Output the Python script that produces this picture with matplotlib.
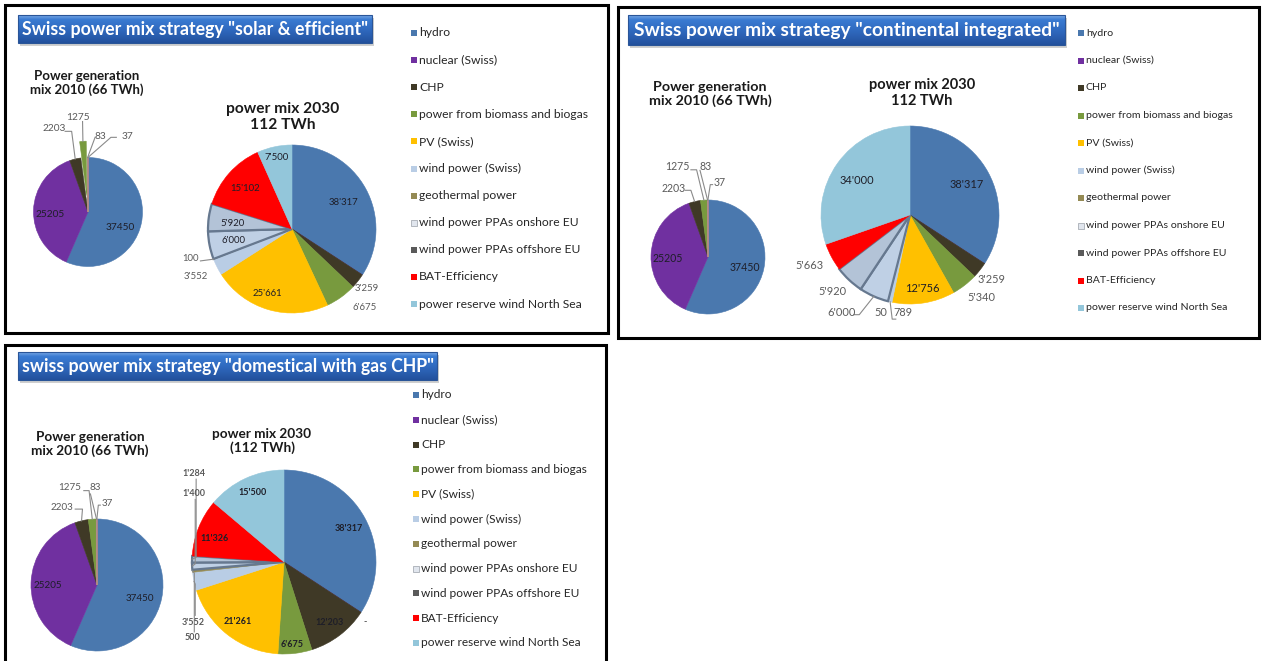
import matplotlib
matplotlib.use("Agg")
import matplotlib.pyplot as plt
import numpy as np
from matplotlib.patches import Rectangle
from matplotlib.colors import LinearSegmentedColormap

W, H = 1262, 661

# ---- data -------------------------------------------------------------
categories = [
    "hydro", "nuclear (Swiss)", "CHP", "power from biomass and biogas",
    "PV (Swiss)", "wind power (Swiss)", "geothermal power",
    "wind power PPAs onshore EU", "wind power PPAs offshore EU",
    "BAT-Efficiency", "power reserve wind North Sea",
]
mix_2010 = [37450, 25205, 2203, 1275, 83, 37, 0, 0, 0, 0, 0]
solar_2030 = [38317, 0, 3259, 6675, 25661, 3552, 100, 6000, 5920, 15102, 7500]
continental_2030 = [38317, 0, 3259, 5340, 12756, 789, 50, 6000, 5920, 5663, 34000]
domestic_2030 = [38317, 0, 12203, 6675, 21261, 3552, 500, 1400, 1284, 11326, 15500]

panel_titles = [
    'Swiss power mix strategy "solar & efficient"',
    'Swiss power mix strategy "continental integrated"',
    'swiss power mix strategy "domestical with gas CHP"',
]
title_2010 = "Power generation\nmix 2010 (66 TWh)"
titles_2030 = ["power mix 2030\n112 TWh", "power mix 2030\n112 TWh",
               "power mix 2030\n(112 TWh)"]

# ---- styling ----------------------------------------------------------
colors = ['#4a78ae', '#7030a0', '#3f3926', '#789a3e', '#ffc000', '#b9cde5',
          '#948a54', '#e1e6ee', '#5a5a5a', '#ff0000', '#93c6da']
bevel_fill = {7: '#bfd0e5', 8: '#b3c3d7'}
bevel_edge = '#66788f'
IN_COL, OUT_COL, LEAD_COL = '#1e1e28', '#5a5a5a', '#8a8a8a'

NARROW = ['Liberation Sans Narrow', 'Lato', 'DejaVu Sans']
plt.rcParams['font.family'] = ['Lato', 'DejaVu Sans']
fig = plt.figure(figsize=(W / 100, H / 100), dpi=100)
renderer = fig.canvas.get_renderer()


def fx(x):
    return x / W


def fy(y):
    return 1 - y / H


def fit_width(txt, target):
    bb = txt.get_window_extent(renderer)
    txt.set_fontsize(txt.get_fontsize() * target / bb.width)


def fmt_th(v):
    return f"{v:,}".replace(",", "'")


def panel_frame(x0, y0, x1, y1):
    fig.add_artist(Rectangle((fx(x0), fy(y1)), fx(x1 - x0), (y1 - y0) / H,
                             transform=fig.transFigure, fill=False,
                             ec='black', lw=2.2, zorder=5))


bar_cmap = LinearSegmentedColormap.from_list(
    'bar', [(0.0, '#22509c'), (0.45, '#2f68bd'), (0.85, '#3a7bd2'),
            (1.0, '#78a7e4')])


def title_bar(x0, y0, x1, y1, text, text_w):
    # soft drop shadow behind the bar
    fig.add_artist(Rectangle((fx(x0 + 2), fy(y1 + 3)), fx(x1 - x0), (y1 - y0) / H,
                             transform=fig.transFigure, fc='#a0a0a0',
                             ec='none', alpha=0.5, zorder=-1))
    ax = fig.add_axes([fx(x0), fy(y1), fx(x1 - x0), (y1 - y0) / H])
    ax.set_zorder(2)
    grad = np.linspace(0, 1, 64).reshape(-1, 1)
    ax.imshow(grad, cmap=bar_cmap, aspect='auto', origin='lower',
              extent=[0, 1, 0, 1])
    ax.set_axis_off()
    fig.add_artist(Rectangle((fx(x0), fy(y1)), fx(x1 - x0), (y1 - y0) / H,
                             transform=fig.transFigure, fill=False,
                             ec='#2a5598', lw=0.8, zorder=3))
    t = fig.text(fx((x0 + x1) / 2), fy((y0 + y1) / 2 + 0.5), text,
                 color='white', fontweight='bold', fontsize=14,
                 ha='center', va='center', family=NARROW, zorder=4)
    fit_width(t, text_w)


def subtitle(x, y, text, width):
    t = fig.text(fx(x), fy(y), text, ha='center', va='center',
                 fontweight='bold', color='#1a1a1a', fontsize=10,
                 linespacing=1.1, family=NARROW)
    fit_width(t, width)


def legend(x, y0, step, width):
    probe = fig.text(0, 0, max(categories, key=len), fontsize=10)
    bb = probe.get_window_extent(renderer)
    probe.remove()
    fs = 10 * width / bb.width
    for i, (cat, col) in enumerate(zip(categories, colors)):
        y = y0 + i * step
        fig.add_artist(Rectangle((fx(x), fy(y + 3)), 6 / W, 6 / H,
                                 transform=fig.transFigure, fc=col,
                                 ec='#9aa0a8' if i == 7 else 'none', lw=0.5))
        fig.text(fx(x + 8), fy(y), cat, fontsize=fs, va='center',
                 ha='left', color='#262626')


def pie(cx, cy, r, values, specs, fs, fmt=str, bold=False, explode=None,
        ry=None):
    ry = ry or r
    ax = fig.add_axes([fx(cx - r), fy(cy + ry), 2 * r / W, 2 * ry / H])
    wedges, _ = ax.pie(values, colors=colors, startangle=90,
                       counterclock=False, explode=explode,
                       wedgeprops=dict(linewidth=0.4))
    for w in wedges:
        w.set_edgecolor(w.get_facecolor())
    for i, fill in bevel_fill.items():
        if values[i] > 0:
            wedges[i].set_facecolor(fill)
            wedges[i].set_edgecolor(bevel_edge)
            wedges[i].set_linewidth(1.6)
    ax.set_aspect('auto')
    ax.set_xlim(-1, 1)
    ax.set_ylim(-1, 1)
    ax.set_axis_off()
    for idx, x, y, kind, leader in specs:
        label = '-' if values[idx] == 0 else fmt(values[idx])
        ax.text(x, y, label, ha='center', va='center', fontsize=fs,
                color=IN_COL if kind == 'in' else OUT_COL,
                fontweight='bold' if bold else 'normal')
        if leader:
            w = wedges[idx]
            mid = np.deg2rad((w.theta1 + w.theta2) / 2)
            ex = w.center[0] + w.r * np.cos(mid)
            ey = w.center[1] + w.r * np.sin(mid)
            xs = [p[0] for p in leader] + [ex]
            ys = [p[1] for p in leader] + [ey]
            ax.plot(xs, ys, color=LEAD_COL, lw=0.8, clip_on=False)
    return ax


# ---- panel frames -----------------------------------------------------
panel_frame(5, 5, 608, 333)
panel_frame(618, 7, 1259, 338)
panel_frame(5, 345, 606, 668)

# ---- titles -----------------------------------------------------------
title_bar(18, 15, 372, 43, panel_titles[0], 347)
title_bar(628, 15, 1065, 45, panel_titles[1], 429)
title_bar(18, 352, 437, 380, panel_titles[2], 413)

subtitle(87, 83, title_2010, 114)
subtitle(283, 117, titles_2030[0], 113)
subtitle(710, 94, title_2010, 123)
subtitle(922, 93, titles_2030[1], 107)
subtitle(90, 444, title_2010, 117)
subtitle(262, 441, titles_2030[2], 99)

legend(411, 33, 27.1, 170)
legend(1078, 33, 27.5, 146)
legend(413, 395, 24.8, 166)

# ---- pies: (category index, x, y, inside/outside, leader points) ------
specs_2010_a = [
    (0, 0.60, -0.28, 'in', None),
    (1, -0.69, -0.05, 'in', None),
    (2, -0.62, 1.53, 'out', [(-0.42, 1.48), (-0.30, 1.48)]),
    (3, -0.19, 1.73, 'out', [(-0.10, 1.66)]),
    (4, 0.23, 1.39, 'out', [(0.13, 1.37)]),
    (5, 0.72, 1.39, 'out', [(0.52, 1.37), (0.42, 1.37)]),
]
pie(88, 212, 54.5, mix_2010, specs_2010_a, 7.3,
    explode=[0, 0, 0, 0.3, 0, 0, 0, 0, 0, 0, 0])

specs_solar = [
    (0, 0.61, 0.32, 'in', None),
    (2, 0.89, -0.71, 'out', None),
    (3, 0.86, -0.93, 'out', None),
    (4, -0.29, -0.77, 'in', None),
    (5, -1.15, -0.57, 'out', None),
    (6, -1.21, -0.35, 'out', [(-1.09, -0.38)]),
    (7, -0.70, -0.14, 'in', None),
    (8, -0.71, 0.07, 'in', None),
    (9, -0.56, 0.48, 'in', None),
    (10, -0.18, 0.85, 'in', None),
]
pie(292, 229, 84, solar_2030, specs_solar, 6.9, fmt=fmt_th)

specs_2010_b = [
    (0, 0.65, -0.19, 'in', None),
    (1, -0.70, -0.02, 'in', None),
    (2, -0.61, 1.21, 'out', [(-0.40, 1.17), (-0.30, 1.17)]),
    (3, -0.54, 1.58, 'out', [(-0.30, 1.53), (-0.20, 1.53)]),
    (4, -0.04, 1.58, 'out', [(-0.14, 1.52)]),
    (5, 0.21, 1.30, 'out', [(0.08, 1.27), (0.04, 1.27)]),
]
pie(708, 257, 57, mix_2010, specs_2010_b, 7.6)

specs_cont = [
    (0, 0.64, 0.34, 'in', None),
    (2, 0.92, -0.73, 'out', None),
    (3, 0.80, -0.93, 'out', None),
    (4, 0.14, -0.83, 'in', None),
    (5, -0.08, -1.10, 'out', [(-0.16, -1.17), (-0.20, -1.17)]),
    (6, -0.33, -1.10, 'out', None),
    (7, -0.77, -1.09, 'out', [(-0.63, -1.12), (-0.57, -1.12)]),
    (8, -0.87, -0.86, 'out', None),
    (9, -1.13, -0.57, 'out', None),
    (10, -0.60, 0.39, 'in', None),
]
pie(910, 215, 89, continental_2030, specs_cont, 7.9, fmt=fmt_th)

specs_2010_c = [
    (0, 0.65, -0.20, 'in', None),
    (1, -0.74, 0.0, 'in', None),
    (2, -0.53, 1.18, 'out', [(-0.33, 1.15), (-0.22, 1.15)]),
    (3, -0.41, 1.47, 'out', [(-0.20, 1.43), (-0.12, 1.43)]),
    (4, -0.03, 1.47, 'out', [(-0.10, 1.38)]),
    (5, 0.15, 1.24, 'out', [(0.05, 1.21), (0.02, 1.21)]),
]
pie(97, 585, 66, mix_2010, specs_2010_c, 7.1)

specs_dom = [
    (0, 0.70, 0.36, 'in', None),
    (1, 0.88, -0.65, 'out', None),
    (2, 0.50, -0.66, 'in', None),
    (3, 0.09, -0.90, 'in', None),
    (4, -0.50, -0.65, 'in', None),
    (5, -0.99, -0.66, 'out', [(-0.965, -0.58), (-0.965, -0.24)]),
    (6, -0.99, -0.82, 'out', [(-0.975, -0.76), (-0.975, -0.12)]),
    (7, -0.98, 0.74, 'out', [(-0.965, 0.68), (-0.965, -0.02)]),
    (8, -0.98, 0.96, 'out', [(-0.955, 0.90), (-0.955, 0.05)]),
    (9, -0.75, 0.26, 'in', None),
    (10, -0.34, 0.76, 'in', None),
]
pie(284, 562, 92, domestic_2030, specs_dom, 6.5, fmt=fmt_th, bold=True)

fig.savefig("out.png", dpi=100)
